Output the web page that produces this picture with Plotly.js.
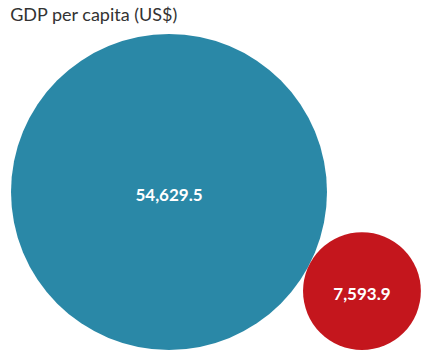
<!DOCTYPE html>
<html>
<head>
<meta charset="utf-8">
<script src="https://cdn.plot.ly/plotly-3.0.1.min.js"></script>
<style>html,body{margin:0;padding:0;background:#fff;}#chart{width:424px;height:356px;}</style>
</head>
<body>
<div id="chart"></div>
<script>
const categories = ["Country A", "Country B"];
const gdpPerCapita = [54629.5, 7593.9];
const labels = ["54,629.5", "7,593.9"];
const colors = ["#2a88a7", "#c4161d"];

const W = 424, H = 356;
const maxRadius = 158;             // pixel radius of the largest bubble
const sizeref = gdpPerCapita[0] / 2 / (maxRadius * maxRadius);
const radius = v => Math.sqrt(v / 2 / sizeref);

// layout: bubbles bottom-aligned and tangent to each other
const r1 = radius(gdpPerCapita[0]), r2 = radius(gdpPerCapita[1]);
const leftPad = 11, bottom = 350;
const cx1 = leftPad + r1, cy1 = bottom - r1;
const cy2 = bottom - r2;
const dy = cy2 - cy1;
const cx2 = cx1 + Math.sqrt((r1 + r2) * (r1 + r2) - dy * dy);
const textDrop = 4.5;              // labels sit slightly below the centre

const bubbles = {
  type: "scatter",
  mode: "markers",
  x: [cx1, cx2],
  y: [cy1, cy2],
  customdata: categories,
  marker: {
    size: gdpPerCapita,
    sizemode: "area",
    sizeref: sizeref,
    color: colors,
    opacity: 1,
    line: {width: 0}
  },
  hoverinfo: "skip",
  cliponaxis: false
};

const valueLabels = {
  type: "scatter",
  mode: "text",
  x: [cx1, cx2],
  y: [cy1 + textDrop, cy2 + textDrop],
  text: labels.map(t => "<b>" + t + "</b>"),
  textposition: "middle center",
  textfont: {family: "Lato, 'Open Sans', sans-serif", size: 17, color: "#ffffff"},
  hoverinfo: "skip",
  cliponaxis: false
};

const layout = {
  width: W, height: H,
  margin: {l: 0, r: 0, t: 0, b: 0},
  paper_bgcolor: "#ffffff",
  plot_bgcolor: "#ffffff",
  showlegend: false,
  title: {
    text: "GDP per capita (US$)",
    x: 0.024, xref: "container", xanchor: "left",
    y: 1 - 15 / H, yref: "container", yanchor: "middle",
    font: {family: "Lato, 'Open Sans', sans-serif", size: 18, color: "#333333"}
  },
  xaxis: {range: [0, W], visible: false, fixedrange: true},
  yaxis: {range: [H, 0], visible: false, fixedrange: true}
};

Plotly.newPlot("chart", [bubbles, valueLabels], layout, {displayModeBar: false, staticPlot: true});
</script>
</body>
</html>
